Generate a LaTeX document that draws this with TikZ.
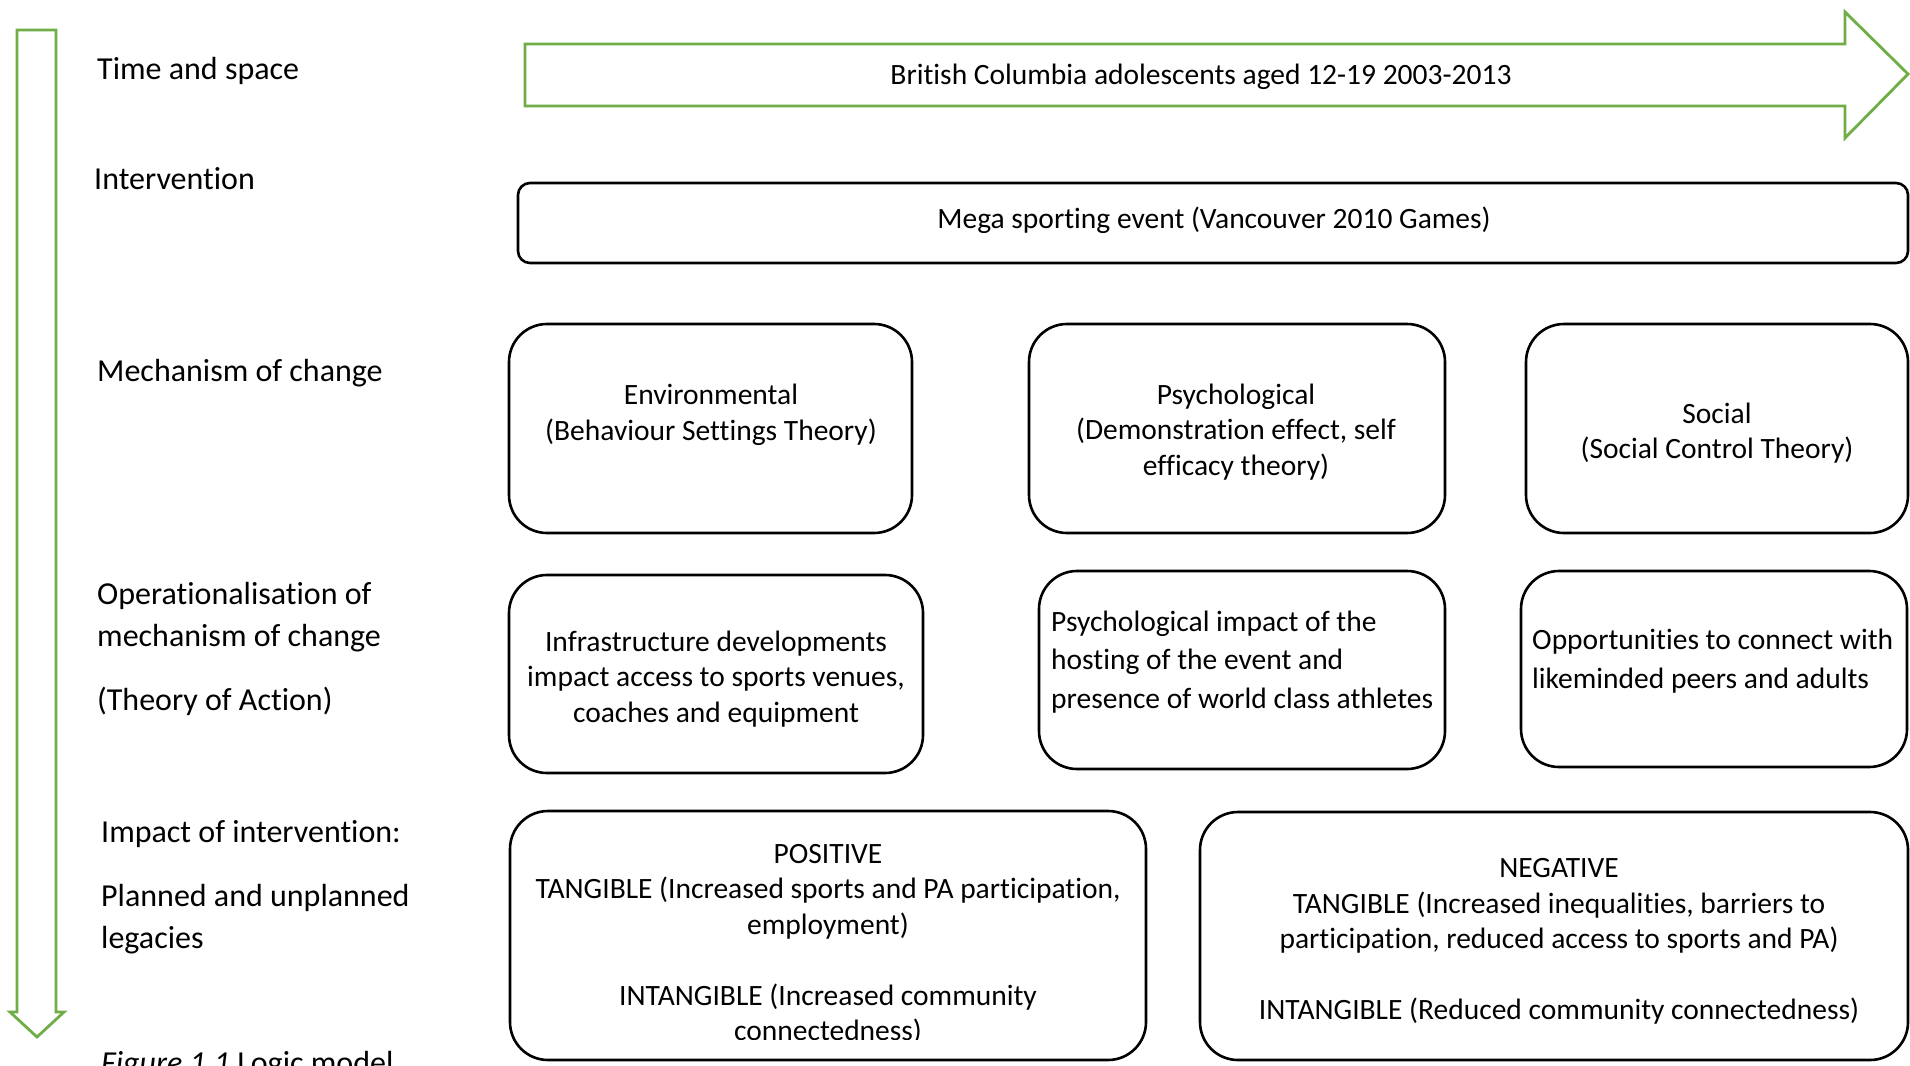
\documentclass[tikz,border=0pt]{standalone}
\usepackage{fontspec}
\setmainfont{Carlito}[RawFeature={-liga;-clig;-calt;-dlig}]
\usetikzlibrary{positioning}
\definecolor{arrowgreen}{RGB}{112,173,71}
\tikzset{
  box/.style={draw=black, line width=2.6pt, rounded corners=38pt, inner sep=0pt},
  megabox/.style={draw=black, line width=2.6pt, rounded corners=12pt, inner sep=0pt},
  greenarrow/.style={draw=arrowgreen, line width=2.8pt, line join=miter},
  boxtext/.style={font=\fontsize{29.5}{35.5}\selectfont, align=center, inner sep=0pt},
  boxtextl/.style={font=\fontsize{29.5}{38.5}\selectfont, align=left, inner sep=0pt, anchor=west},
  lbl/.style={font=\fontsize{32}{42}\selectfont, align=left, inner sep=0pt, anchor=west},
}
\begin{document}
\begin{tikzpicture}[x=1pt,y=-1pt]
\useasboundingbox (0,0) rectangle (1910,1065);
\clip (0,0) rectangle (1910,1065);
\fill[white] (0,0) rectangle (1910,1065);

% vertical green arrow
\draw[greenarrow] (17,30) -- (56,30) -- (56,1012) -- (64,1012) -- (37,1037) -- (10,1012) -- (17,1012) -- cycle;

% horizontal green arrow
\draw[greenarrow] (525,44) -- (1845,44) -- (1845,12) -- (1908,74) -- (1845,138) -- (1845,106) -- (525,106) -- cycle;
\node[boxtext] (timetxt) at (1201,77) {British Columbia adolescents aged 12-19 2003-2013};

% left labels
\node[lbl] (l1) at (97,71) {Time and space};
\node[lbl] (l2) at (94,179) {Intervention};
\node[lbl] (l3) at (97,373) {Mechanism of change};
\node[lbl] (l4a) at (97,596) {Operationalisation of};
\node[lbl] (l4b) at (97,638) {mechanism of change};
\node[lbl] (l4c) at (97,701) {(Theory of Action)};
\node[lbl] (l5a) at (101,834) {Impact of intervention:};
\node[lbl] (l5b) at (101,898) {Planned and unplanned};
\node[lbl] (l5c) at (101,940) {legacies};
\node[lbl, anchor=north west] (fig) at (101,1051) {\textit{Figure 1.1} Logic model};

% intervention
\node[megabox, minimum width=1390pt, minimum height=80pt] (mega) at (1213,223) {};
\node[boxtext] (megatxt) at (1214,220) {Mega sporting event (Vancouver 2010 Games)};

% mechanisms
\node[box, minimum width=403pt, minimum height=209pt] (env) at (710.5,428.5) {};
\node[boxtext] (envtxt) at (711,415) {Environmental\\(Behaviour Settings Theory)};
\node[box, minimum width=416pt, minimum height=209pt] (psy) at (1237,428.5) {};
\node[boxtext] (psytxt) at (1236,432) {Psychological\\(Demonstration effect, self\\efficacy theory)};
\node[box, minimum width=382pt, minimum height=209pt] (soc) at (1717,428.5) {};
\node[boxtext] (soctxt) at (1717,433) {Social\\(Social Control Theory)};

% operationalisation
\node[box, minimum width=414pt, minimum height=198pt] (inf) at (716,674) {};
\node[boxtext] (inftxt) at (716,679) {Infrastructure developments\\impact access to sports venues,\\coaches and equipment};
\node[box, minimum width=406pt, minimum height=198pt] (psi) at (1242,670) {};
\node[boxtextl] (psitxt) at (1051,662) {Psychological impact of the\\hosting of the event and\\presence of world class athletes};
\node[box, minimum width=386pt, minimum height=196pt] (opp) at (1714,669) {};
\node[boxtextl] (opptxt) at (1532,661) {Opportunities to connect with\\likeminded peers and adults};

% impacts
\node[box, minimum width=636pt, minimum height=249pt] (pos) at (828,935.5) {};
\begin{scope}
\clip (510,811) rectangle (1146,1039);
\node[boxtext] (postxt) at (828,944.5) {POSITIVE\\TANGIBLE (Increased sports and PA participation,\\employment)\\[35.5pt]INTANGIBLE (Increased community\\connectedness)};
\end{scope}
\node[box, minimum width=708pt, minimum height=248pt] (neg) at (1554,936) {};
\node[boxtext] (negtxt) at (1559,941.5) {NEGATIVE\\TANGIBLE (Increased inequalities, barriers to\\participation, reduced access to sports and PA)\\[35.5pt]INTANGIBLE (Reduced community connectedness)};
\end{tikzpicture}
\end{document}
